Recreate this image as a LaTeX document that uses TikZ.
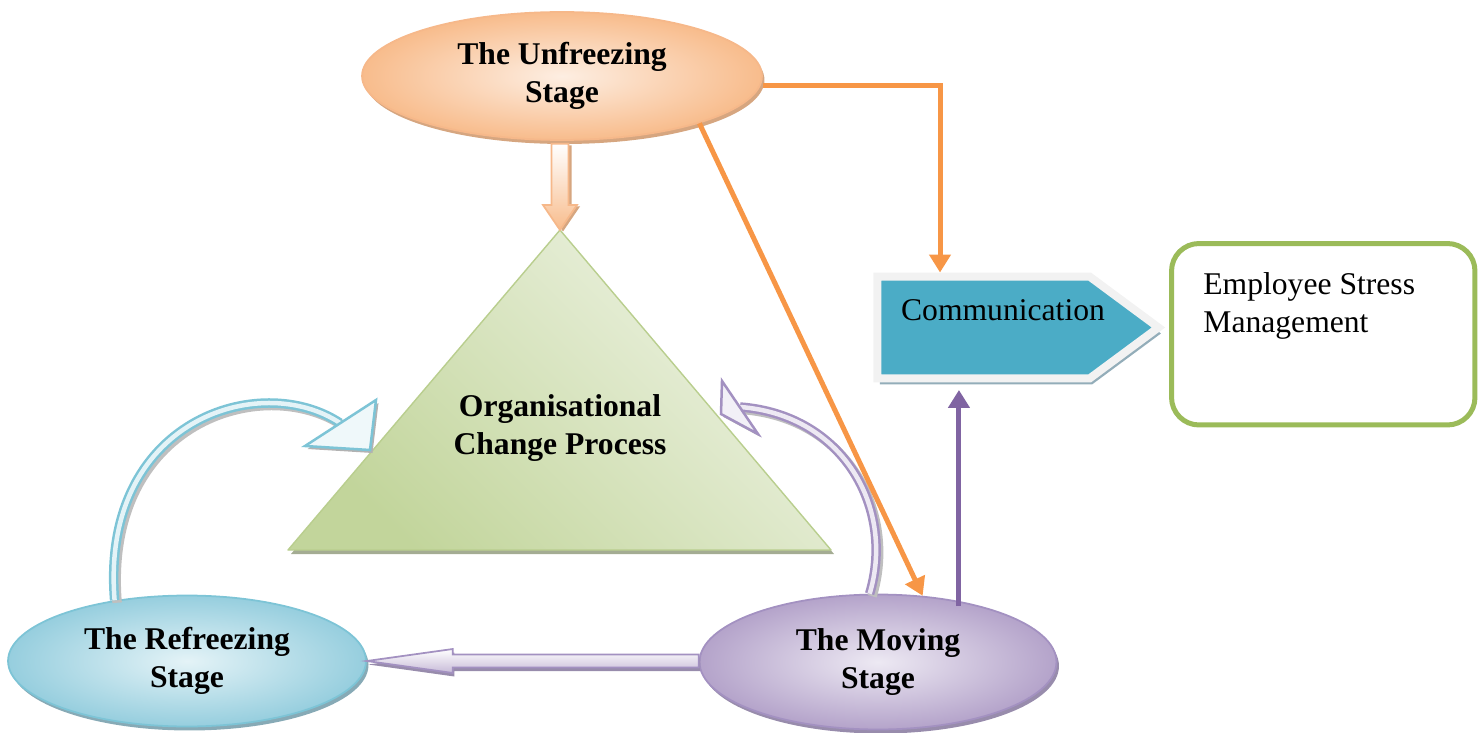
\documentclass[tikz,border=0pt]{standalone}
\usepackage{fontspec}
\setmainfont{Liberation Serif}
\usetikzlibrary{positioning, arrows.meta, shapes.geometric, shapes.symbols, shadows, calc}

\definecolor{lewinorange}{RGB}{247,150,70}
\definecolor{lewinpurple}{RGB}{128,100,162}
\definecolor{unfreezeedge}{RGB}{246,184,138}
\definecolor{unfreezedark}{RGB}{248,188,140}
\definecolor{unfreezelight}{RGB}{253,238,226}
\definecolor{unfreezeshade}{RGB}{214,166,128}
\definecolor{refreezeedge}{RGB}{125,196,214}
\definecolor{refreezedark}{RGB}{150,206,222}
\definecolor{refreezelight}{RGB}{228,243,247}
\definecolor{refreezeshade}{RGB}{135,170,182}
\definecolor{movingedge}{RGB}{163,145,193}
\definecolor{movingdark}{RGB}{180,163,202}
\definecolor{movinglight}{RGB}{237,233,243}
\definecolor{movingshade}{RGB}{152,140,172}
\definecolor{changedark}{RGB}{194,213,155}
\definecolor{changelight}{RGB}{238,243,228}
\definecolor{changeedge}{RGB}{185,206,142}
\definecolor{changeshade}{RGB}{164,172,147}
\definecolor{commfill}{RGB}{75,172,198}
\definecolor{commedge}{RGB}{242,242,242}
\definecolor{commshade}{RGB}{147,173,185}
\definecolor{stressgreen}{RGB}{155,187,89}

\begin{document}
\begin{tikzpicture}[x=0.02cm, y=-0.02cm,
    stage/.style={ellipse, line width=1pt, align=center,
                  font=\bfseries\fontsize{18}{21.6}\selectfont},
    unfreezestage/.style={stage, draw=unfreezeedge,
                  inner color=unfreezelight, outer color=unfreezedark,
                  minimum width=8cm, minimum height=2.56cm,
                  drop shadow={shadow xshift=0.05cm, shadow yshift=-0.08cm,
                               fill=unfreezeshade, opacity=1}},
    refreezestage/.style={stage, draw=refreezeedge,
                  inner color=refreezelight, outer color=refreezedark,
                  minimum width=7.16cm, minimum height=2.62cm,
                  drop shadow={shadow xshift=0.05cm, shadow yshift=-0.08cm,
                               fill=refreezeshade, opacity=1}},
    movingstage/.style={stage, draw=movingedge,
                  inner color=movinglight, outer color=movingdark,
                  minimum width=7.14cm, minimum height=2.7cm,
                  drop shadow={shadow xshift=0.05cm, shadow yshift=-0.08cm,
                               fill=movingshade, opacity=1}},
    changetri/.style={draw=changeedge, line width=0.8pt, line join=round,
                  left color=changedark, right color=changelight, shading angle=135,
                  drop shadow={shadow xshift=0.06cm, shadow yshift=-0.08cm,
                               fill=changeshade, opacity=1}},
    boldtext/.style={align=center, font=\bfseries\fontsize{18}{21.6}\selectfont},
    downblock/.style={draw=unfreezeedge, line width=1pt,
                  top color=white, bottom color=unfreezedark,
                  drop shadow={shadow xshift=0.06cm, shadow yshift=-0.03cm,
                               fill=unfreezeshade, opacity=1}},
    leftblock/.style={draw=movingedge, line width=1pt,
                  top color=white, bottom color=movingdark!75,
                  drop shadow={shadow xshift=0.03cm, shadow yshift=-0.07cm,
                               fill=movingshade, opacity=1}},
    curveshaft/.style={line width=0.05cm, double distance=0.09cm},
    refreezeshaft/.style={curveshaft, draw=refreezeedge, double=refreezelight},
    movingshaft/.style={curveshaft, draw=movingedge, double=movinglight},
    shaftshadow/.style={line width=0.19cm, draw=black!25,
                  transform canvas={xshift=0.05cm, yshift=-0.05cm}},
    curvehead/.style={line width=0.05cm, line join=miter,
                  drop shadow={shadow xshift=0.05cm, shadow yshift=-0.06cm,
                               fill=black!30, opacity=1}},
    refreezehead/.style={curvehead, draw=refreezeedge, fill=refreezelight!60},
    movinghead/.style={curvehead, draw=movingedge, fill=movinglight!70},
    orangeline/.style={draw=lewinorange, line width=0.1cm,
                  -{Triangle[length=3.6mm, width=4.2mm]}},
    purpleline/.style={draw=lewinpurple, line width=0.1cm,
                  -{Triangle[length=3.6mm, width=4.2mm]}},
    commbox/.style={signal, signal to=east, signal pointer angle=73,
                  fill=commfill, draw=commedge, line width=0.16cm,
                  minimum width=5.62cm, minimum height=2.04cm,
                  drop shadow={shadow xshift=0.05cm, shadow yshift=-0.12cm,
                               fill=commshade, opacity=1}},
    commtext/.style={font=\fontsize{18}{21.6}\selectfont},
    stressbox/.style={rectangle, rounded corners=0.55cm, draw=stressgreen,
                  line width=0.1cm, minimum width=6.07cm, minimum height=3.63cm},
    stresstext/.style={inner sep=0pt, align=left,
                  font=\fontsize{18}{21.6}\selectfont},
]
\useasboundingbox (0,0) rectangle (1484,733);

% ─── Change process triangle ─────────────────────────────────────
\coordinate (apex)  at (560,230);
\coordinate (basel) at (288,550);
\coordinate (baser) at (831,550);
\path[changetri] (apex) -- (basel) -- (baser) -- cycle;
\node[boldtext] (ocp) at (560,428) {Organisational\\Change Process};

% ─── The three stages ────────────────────────────────────────────
\node[unfreezestage] (uf) at (562,76)  {The Unfreezing\\Stage};
\node[refreezestage] (rf) at (187,661) {The Refreezing\\Stage};
\node[movingstage]   (mv) at (878,662) {The Moving\\Stage};

% ─── Block arrows ────────────────────────────────────────────────
\path[downblock] ($(uf.south -| apex)+(-8.5,3)$) -- ($(apex)+(-8.5,-25)$)
  -- ($(apex)+(-17,-25)$) -- (apex) -- ($(apex)+(17,-25)$)
  -- ($(apex)+(8.5,-25)$) -- ($(uf.south -| apex)+(8.5,3)$) -- cycle;

\path[leftblock] ($(mv.west |- rf.east)+(0,-6.5)$) -- ($(rf.east)+(86,-6.5)$)
  -- ($(rf.east)+(86,-12)$) -- (rf.east) -- ($(rf.east)+(86,12)$)
  -- ($(rf.east)+(86,6.5)$) -- ($(mv.west |- rf.east)+(0,6.5)$) -- cycle;

% ─── Curved arrows back into the process ─────────────────────────
\coordinate (rfbase)  at (340,423);
\coordinate (rfwing1) at (376,400);
\coordinate (rfwing2) at (305,446);
\coordinate (rftip)   at (370,450);
\draw[shaftshadow]   (rf.140) .. controls (100,420) and (260,370) .. (rfbase);
\draw[refreezeshaft] (rf.140) .. controls (100,420) and (260,370) .. (rfbase);
\path[refreezehead] (rfwing1) -- (rftip) -- (rfwing2) -- cycle;

\coordinate (mvbase)  at (740,407);
\coordinate (mvwing1) at (722,381);
\coordinate (mvwing2) at (758,434);
\coordinate (mvtip)   at (721,414);
\draw[shaftshadow] (mv.97) .. controls (895,510) and (845,415) .. (mvbase);
\draw[movingshaft] (mv.97) .. controls (895,510) and (845,415) .. (mvbase);
\path[movinghead] (mvwing1) -- (mvtip) -- (mvwing2) -- cycle;

% ─── Communication and stress management ─────────────────────────
\node[commbox] (comm) at (983.5,327.5) {};
\node[commtext] (commlabel) at ([xshift=0.39cm, yshift=0.35cm]comm.center) {Communication};

\node[stressbox] (esm) at (1323.25,334.25) {};
\node[stresstext, below right=0.62cm and 0.68cm of esm.north west] (esmtext)
  {Employee Stress\\Management};

% ─── Connectors ──────────────────────────────────────────────────
\draw[orangeline] ([yshift=-0.2cm]uf.east) -| ([xshift=-0.87cm]comm.north);
\draw[orangeline] (uf.-19) -- (mv.56);
\draw[purpleline, shorten >=0.15cm] ([yshift=-0.1cm]mv.37) -- (mv.37 |- comm.south);

\end{tikzpicture}
\end{document}
